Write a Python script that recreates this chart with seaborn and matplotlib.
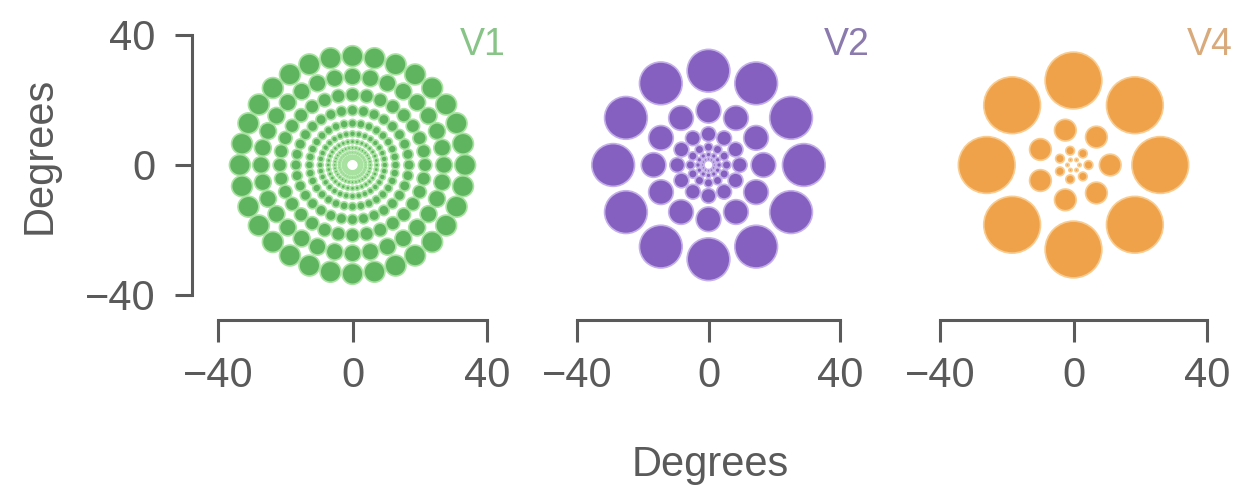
import numpy as np
import matplotlib
matplotlib.use("Agg")
import matplotlib.pyplot as plt
import pandas as pd
import seaborn as sns

# ring layouts (degrees)
v1_radius = [33.5, 27.2, 21.6, 16.8, 12.8, 9.6, 7.2, 5.3, 3.9, 2.8, 2.0]
v1_count = [32, 32, 32, 32, 32, 32, 32, 32, 32, 32, 32]
v1_diam = [6.2, 5.0, 4.0, 3.1, 2.4, 1.8, 1.3, 1.0, 0.7, 0.5, 0.4]

v2_radius = [29.0, 16.7, 9.5, 5.5, 3.2, 1.8]
v2_count = [12, 12, 12, 12, 12, 12]
v2_diam = [13.0, 7.5, 4.5, 2.6, 1.5, 0.9]

v4_radius = [26.0, 11.0, 4.5, 1.8]
v4_count = [8, 7, 7, 6]
v4_diam = [17.0, 6.5, 2.6, 1.0]

areas = ["V1", "V2", "V4"]
ticks = [-40, 0, 40]


def ring_frame(radius, count, diam):
    # expand ring table into one row per receptive field
    rows = []
    for r, n, d in zip(radius, count, diam):
        for i in range(n):
            a = 2 * np.pi * i / n
            rows.append((r * np.cos(a), r * np.sin(a), d * d))
    return pd.DataFrame(rows, columns=["x", "y", "area"])


def plot():
    W, H, dpi = 1239, 488, 100
    sns.set_style("ticks")
    plt.rcParams["font.family"] = ["Liberation Sans", "DejaVu Sans"]
    fig = plt.figure(figsize=(W / dpi, H / dpi), dpi=dpi)

    frames = [ring_frame(v1_radius, v1_count, v1_diam),
              ring_frame(v2_radius, v2_count, v2_diam),
              ring_frame(v4_radius, v4_count, v4_diam)]
    colors = ["#5fb45f", "#8660c0", "#f0a24a"]
    edges = ["#a8e2a0", "#c4b0e8", "#f8cc90"]
    title_colors = ["#88c488", "#8a7aae", "#d8aa7c"]
    title_x = [32, 35, 34]
    lefts = [218, 577, 940]
    widths = [269, 263, 267]
    bottom, height = 295, 260
    grey = "#5a5a5a"
    minus = lambda t: str(t).replace("-", "\u2212")

    for i, df in enumerate(frames):
        ax = fig.add_axes([lefts[i] / W, (H - bottom) / H, widths[i] / W, height / H])
        ax.set_xlim(-40, 40)
        ax.set_ylim(-40, 40)
        pt_per_deg = widths[i] / 80 * 72 / dpi
        k = pt_per_deg ** 2
        amax = df["area"].max()
        sns.scatterplot(data=df, x="x", y="y", size="area", sizes=(0, k * amax),
                        size_norm=(0, amax), color=colors[i], edgecolor=edges[i],
                        linewidth=1.2, legend=False, ax=ax)
        ax.set_xticks(ticks)
        ax.set_xticklabels([minus(t) for t in ticks])
        ax.set_xlabel("")
        ax.set_ylabel("")
        ax.tick_params(axis="x", bottom=True, direction="out", length=16, width=2.2,
                       color=grey, pad=10, labelsize=30, labelcolor=grey)
        if i == 0:
            ax.set_yticks(ticks)
            ax.set_yticklabels([minus(t) for t in ticks])
            ax.tick_params(axis="y", left=True, direction="out", length=12, width=2.2,
                           color=grey, pad=14, labelsize=30, labelcolor=grey)
            sns.despine(ax=ax, offset={"left": 19, "bottom": 18}, trim=True)
        else:
            ax.set_yticks([])
            sns.despine(ax=ax, left=True, offset={"bottom": 18}, trim=True)
        for s in ["left", "bottom"]:
            ax.spines[s].set_color(grey)
            ax.spines[s].set_linewidth(2.2)
        ax.text(title_x[i], 37, areas[i], color=title_colors[i], fontsize=27,
                ha="left", va="center", clip_on=False)
        ax.set_facecolor("none")

    fig.text(710 / W, 1 - 465 / H, "Degrees", ha="center", va="center",
             fontsize=30, color=grey)
    fig.text(40 / W, 1 - 155 / H, "Degrees", ha="center", va="center", rotation=90,
             fontsize=30, color=grey)
    fig.savefig("out.png", dpi=dpi)


if __name__ == "__main__":
    plot()
